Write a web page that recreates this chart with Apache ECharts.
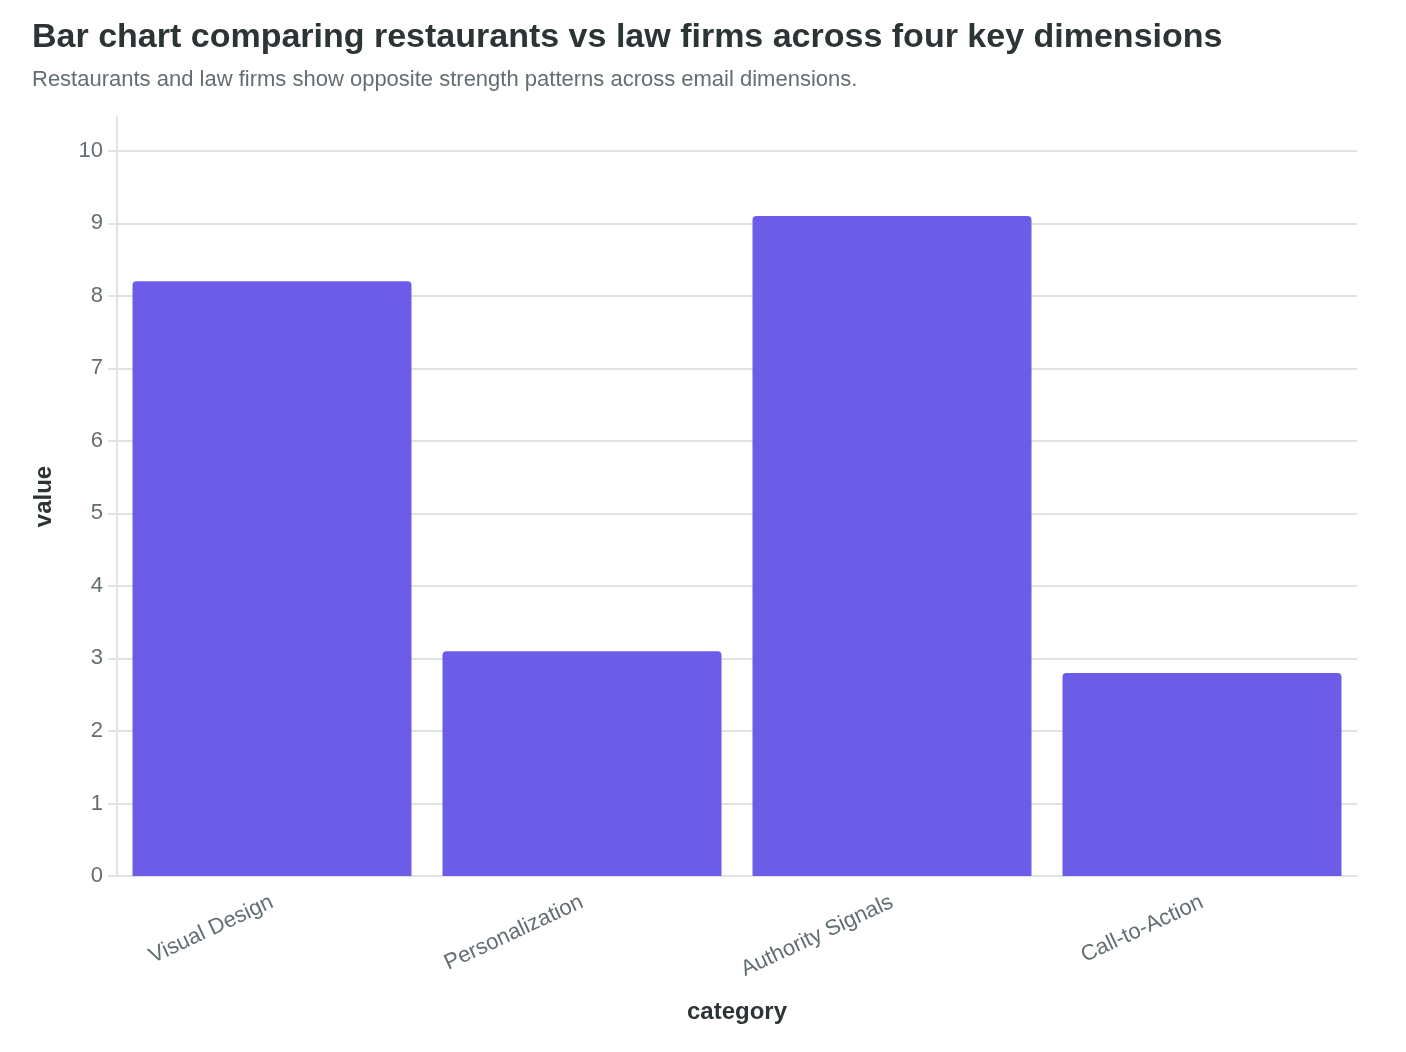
<!DOCTYPE html>
<html>
<head>
<meta charset="utf-8">
<title>Restaurants vs law firms</title>
<script src="https://cdn.jsdelivr.net/npm/echarts@6/dist/echarts.min.js"></script>
<style>
  html, body { margin: 0; padding: 0; background: #fff; }
  #chart { width: 1406px; height: 1052px; }
</style>
</head>
<body>
<div id="chart"></div>
<script>
  // data
  var categories = ["Visual Design", "Personalization", "Authority Signals", "Call-to-Action"];
  var values = [8.2, 3.1, 9.1, 2.8];
  var yTicks = [0, 1, 2, 3, 4, 5, 6, 7, 8, 9, 10];

  var myChart = echarts.init(document.getElementById("chart"), null, { renderer: "canvas" });

  var font = "Liberation Sans, Arial, sans-serif";
  var gridColor = "#dfe3e6";
  var option = {
    backgroundColor: "#ffffff",
    animation: false,
    title: {
      text: "Bar chart comparing restaurants vs law firms across four key dimensions",
      subtext: "Restaurants and law firms show opposite strength patterns across email dimensions.",
      left: 27,
      top: 16,
      itemGap: 14,
      textStyle: { fontFamily: font, fontSize: 34, fontWeight: "bold", color: "#2d3436" },
      subtextStyle: { fontFamily: font, fontSize: 22, color: "#636e72" },
    },
    grid: { left: 117, right: 49, top: 117, bottom: 176, containLabel: false },
    xAxis: {
      type: "category",
      data: categories,
      name: "category",
      nameLocation: "middle",
      nameGap: 124,
      nameTextStyle: { fontFamily: font, fontSize: 24, fontWeight: "bold", color: "#2d3436" },
      axisLine: { lineStyle: { color: gridColor, width: 2 } },
      axisTick: { alignWithLabel: true, length: 9, lineStyle: { color: gridColor, width: 2 } },
      axisLabel: { fontFamily: font, fontSize: 22, color: "#636e72", rotate: 25, margin: 25 },
    },
    yAxis: {
      type: "value",
      min: 0,
      max: function (v) { return v.max * 1.15; },
      interval: 1,
      name: "value",
      nameLocation: "middle",
      nameGap: 61,
      nameTextStyle: { fontFamily: font, fontSize: 24, fontWeight: "bold", color: "#2d3436" },
      axisLine: { show: true, lineStyle: { color: gridColor, width: 2 } },
      axisTick: { show: true, length: 9, customValues: yTicks, lineStyle: { color: gridColor, width: 2 } },
      axisLabel: {
        fontFamily: font, fontSize: 22, color: "#636e72", margin: 14,
        customValues: yTicks,
      },
      splitLine: { lineStyle: { color: gridColor, width: 2 } },
    },
    series: [
      {
        type: "bar",
        data: values,
        barCategoryGap: "10%",
        itemStyle: { color: "#6c5ce7", borderRadius: [4, 4, 0, 0] },
      },
    ],
  };

  myChart.setOption(option);
</script>
</body>
</html>
